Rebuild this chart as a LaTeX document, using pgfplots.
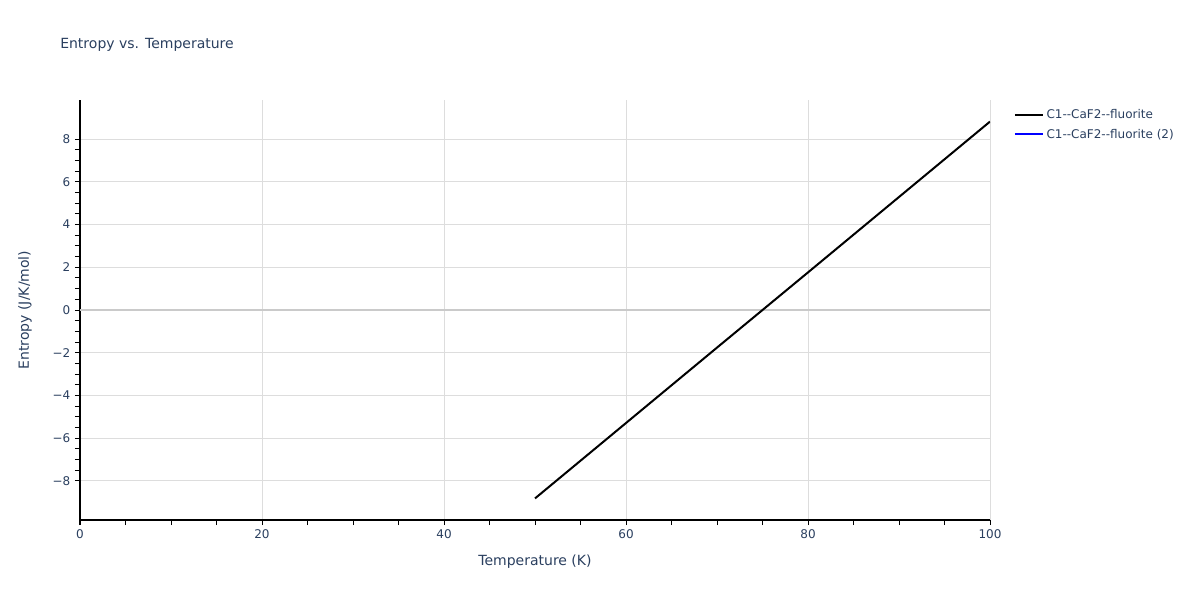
\documentclass[border=0pt]{standalone}
\usepackage{pgfplots}
\pgfplotsset{compat=1.18}
\usepackage{fontspec}
\setmainfont{DejaVu Sans}
\definecolor{txt}{HTML}{2A3F5F}
\definecolor{grd}{HTML}{DDDDDD}
\begin{document}
\begin{tikzpicture}[x=0.75pt,y=0.75pt]
\path[use as bounding box] (0,0) rectangle (1200,600);
\node[anchor=west, text=txt, font=\fontsize{10.5pt}{12pt}\selectfont, inner sep=0pt] at (60,555) {Entropy vs. Temperature};
\begin{axis}[
  at={(80*0.75pt,80*0.75pt)}, anchor=south west,
  scale only axis, width=682.5pt, height=315pt,
  xmin=0, xmax=100, ymin=-9.83, ymax=9.83,
  axis x line*=bottom, axis y line*=left,
  axis line style={black, line width=0.75pt},
  xtick={0,20,...,100}, ytick={-8,-6,...,8},
  yticklabels={−8,−6,−4,−2,0,2,4,6,8},
  minor x tick num=3, minor y tick num=3,
  tick align=outside, tick style={black, line width=0.75pt},
  major tick length=3.75pt, minor tick length=3.75pt,
  grid=major, major grid style={grd, line width=0.75pt},
  minor grid style={draw=none},
  tick label style={text=txt, font=\fontsize{9pt}{11pt}\selectfont},
  /pgf/number format/assume math mode=true,
  label style={text=txt, font=\fontsize{10.5pt}{12pt}\selectfont},
  xlabel={Temperature (K)}, ylabel={Entropy (J/K/mol)},
  xlabel style={at={(0.5,-0.1)}, anchor=center},
  ylabel style={at={(-0.0605,0.5)}, anchor=center},
  legend style={at={(1.0215,0.99)}, anchor=north west, draw=none, fill=none,
    font=\fontsize{9pt}{11pt}\selectfont, text=txt, row sep=2pt},
  legend cell align=left,
  legend image code/.code={\draw[#1, line width=1.5pt] (0pt,0pt) -- (21pt,0pt);},
]
\draw[grd!80!gray, line width=1.5pt] (axis cs:0,0) -- (axis cs:100,0);
\addplot[black, line width=1.5pt] coordinates {
(50,-8.82) (60,-5.29) (70,-1.76) (80,1.76) (90,5.29) (100,8.82)};
\addlegendentry{C1-{}-CaF2-{}-fluorite}
\addlegendimage{blue, line width=1.5pt}
\addlegendentry{C1-{}-CaF2-{}-fluorite (2)}
\end{axis}
\end{tikzpicture}
\end{document}
